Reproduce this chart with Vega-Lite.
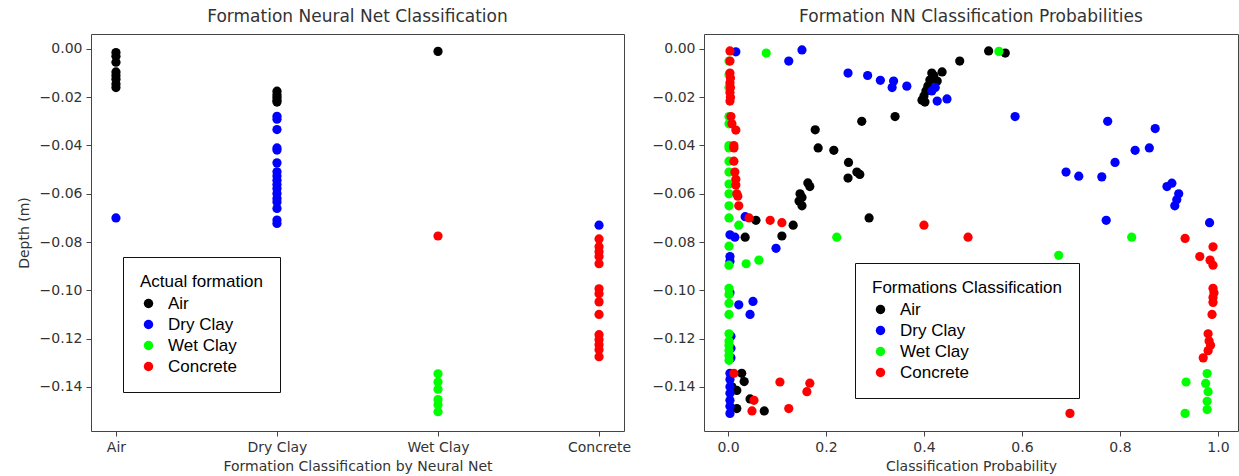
{
  "$schema": "https://vega.github.io/schema/vega-lite/v6.json",
  "background": "white",
  "padding": {"left": 16, "top": 7, "right": 0, "bottom": 0},
  "spacing": 19,
  "config": {
    "font": "DejaVu Sans",
    "view": {"stroke": "#444", "strokeWidth": 1},
    "axis": {
      "grid": false, "domain": false, "tickColor": "#444", "tickSize": 5, "labelPadding": 4,
      "labelFont": "DejaVu Sans", "labelFontSize": 14, "labelColor": "#333",
      "titleFont": "DejaVu Sans", "titleFontSize": 14, "titleFontWeight": "normal", "titleColor": "#333"
    },
    "legend": {
      "orient": "none", "strokeColor": "#111", "fillColor": "white", "padding": 17,
      "titleFont": "Liberation Sans", "titleFontSize": 17, "titleFontWeight": "normal", "titleColor": "#000", "titlePadding": 4, "titleLimit": 500,
      "labelFont": "Liberation Sans", "labelFontSize": 17, "labelColor": "#000", "labelOffset": 11,
      "symbolType": "circle", "symbolSize": 90, "symbolStrokeWidth": 0, "rowPadding": 3
    },
    "title": {"font": "DejaVu Sans", "fontSize": 17, "fontWeight": "normal", "color": "#333", "offset": 8}
  },
  "datasets": {
    "left": [
      {"predicted": "Air", "depth": -0.0015, "actual": "Air"},
      {"predicted": "Air", "depth": -0.003, "actual": "Air"},
      {"predicted": "Air", "depth": -0.0055, "actual": "Air"},
      {"predicted": "Air", "depth": -0.0095, "actual": "Air"},
      {"predicted": "Air", "depth": -0.011, "actual": "Air"},
      {"predicted": "Air", "depth": -0.0125, "actual": "Air"},
      {"predicted": "Air", "depth": -0.0145, "actual": "Air"},
      {"predicted": "Air", "depth": -0.016, "actual": "Air"},
      {"predicted": "Air", "depth": -0.070, "actual": "Dry Clay"},
      {"predicted": "Dry Clay", "depth": -0.0175, "actual": "Air"},
      {"predicted": "Dry Clay", "depth": -0.019, "actual": "Air"},
      {"predicted": "Dry Clay", "depth": -0.020, "actual": "Air"},
      {"predicted": "Dry Clay", "depth": -0.0212, "actual": "Air"},
      {"predicted": "Dry Clay", "depth": -0.022, "actual": "Air"},
      {"predicted": "Dry Clay", "depth": -0.0279, "actual": "Dry Clay"},
      {"predicted": "Dry Clay", "depth": -0.0291, "actual": "Dry Clay"},
      {"predicted": "Dry Clay", "depth": -0.0334, "actual": "Dry Clay"},
      {"predicted": "Dry Clay", "depth": -0.0410, "actual": "Dry Clay"},
      {"predicted": "Dry Clay", "depth": -0.0419, "actual": "Dry Clay"},
      {"predicted": "Dry Clay", "depth": -0.0472, "actual": "Dry Clay"},
      {"predicted": "Dry Clay", "depth": -0.0509, "actual": "Dry Clay"},
      {"predicted": "Dry Clay", "depth": -0.0526, "actual": "Dry Clay"},
      {"predicted": "Dry Clay", "depth": -0.0544, "actual": "Dry Clay"},
      {"predicted": "Dry Clay", "depth": -0.0562, "actual": "Dry Clay"},
      {"predicted": "Dry Clay", "depth": -0.0578, "actual": "Dry Clay"},
      {"predicted": "Dry Clay", "depth": -0.0599, "actual": "Dry Clay"},
      {"predicted": "Dry Clay", "depth": -0.0620, "actual": "Dry Clay"},
      {"predicted": "Dry Clay", "depth": -0.0634, "actual": "Dry Clay"},
      {"predicted": "Dry Clay", "depth": -0.0661, "actual": "Dry Clay"},
      {"predicted": "Dry Clay", "depth": -0.0709, "actual": "Dry Clay"},
      {"predicted": "Dry Clay", "depth": -0.0723, "actual": "Dry Clay"},
      {"predicted": "Wet Clay", "depth": -0.001, "actual": "Air"},
      {"predicted": "Wet Clay", "depth": -0.0775, "actual": "Concrete"},
      {"predicted": "Wet Clay", "depth": -0.1346, "actual": "Wet Clay"},
      {"predicted": "Wet Clay", "depth": -0.138, "actual": "Wet Clay"},
      {"predicted": "Wet Clay", "depth": -0.141, "actual": "Wet Clay"},
      {"predicted": "Wet Clay", "depth": -0.1453, "actual": "Wet Clay"},
      {"predicted": "Wet Clay", "depth": -0.1474, "actual": "Wet Clay"},
      {"predicted": "Wet Clay", "depth": -0.1503, "actual": "Wet Clay"},
      {"predicted": "Concrete", "depth": -0.073, "actual": "Dry Clay"},
      {"predicted": "Concrete", "depth": -0.0787, "actual": "Concrete"},
      {"predicted": "Concrete", "depth": -0.082, "actual": "Concrete"},
      {"predicted": "Concrete", "depth": -0.084, "actual": "Concrete"},
      {"predicted": "Concrete", "depth": -0.086, "actual": "Concrete"},
      {"predicted": "Concrete", "depth": -0.089, "actual": "Concrete"},
      {"predicted": "Concrete", "depth": -0.0994, "actual": "Concrete"},
      {"predicted": "Concrete", "depth": -0.1014, "actual": "Concrete"},
      {"predicted": "Concrete", "depth": -0.1048, "actual": "Concrete"},
      {"predicted": "Concrete", "depth": -0.110, "actual": "Concrete"},
      {"predicted": "Concrete", "depth": -0.1184, "actual": "Concrete"},
      {"predicted": "Concrete", "depth": -0.1205, "actual": "Concrete"},
      {"predicted": "Concrete", "depth": -0.1226, "actual": "Concrete"},
      {"predicted": "Concrete", "depth": -0.1246, "actual": "Concrete"},
      {"predicted": "Concrete", "depth": -0.1275, "actual": "Concrete"}
    ],
    "right": [
      {"probability": 0.532, "depth": -0.0008, "formation": "Air"},
      {"probability": 0.566, "depth": -0.0017, "formation": "Air"},
      {"probability": 0.473, "depth": -0.005, "formation": "Air"},
      {"probability": 0.437, "depth": -0.0095, "formation": "Air"},
      {"probability": 0.416, "depth": -0.010, "formation": "Air"},
      {"probability": 0.42, "depth": -0.011, "formation": "Air"},
      {"probability": 0.427, "depth": -0.0133, "formation": "Air"},
      {"probability": 0.412, "depth": -0.0129, "formation": "Air"},
      {"probability": 0.408, "depth": -0.0154, "formation": "Air"},
      {"probability": 0.404, "depth": -0.0174, "formation": "Air"},
      {"probability": 0.40, "depth": -0.0195, "formation": "Air"},
      {"probability": 0.396, "depth": -0.0212, "formation": "Air"},
      {"probability": 0.402, "depth": -0.022, "formation": "Air"},
      {"probability": 0.341, "depth": -0.028, "formation": "Air"},
      {"probability": 0.273, "depth": -0.030, "formation": "Air"},
      {"probability": 0.178, "depth": -0.0335, "formation": "Air"},
      {"probability": 0.184, "depth": -0.041, "formation": "Air"},
      {"probability": 0.216, "depth": -0.042, "formation": "Air"},
      {"probability": 0.246, "depth": -0.047, "formation": "Air"},
      {"probability": 0.263, "depth": -0.051, "formation": "Air"},
      {"probability": 0.269, "depth": -0.052, "formation": "Air"},
      {"probability": 0.245, "depth": -0.0535, "formation": "Air"},
      {"probability": 0.163, "depth": -0.0555, "formation": "Air"},
      {"probability": 0.167, "depth": -0.057, "formation": "Air"},
      {"probability": 0.147, "depth": -0.060, "formation": "Air"},
      {"probability": 0.151, "depth": -0.0615, "formation": "Air"},
      {"probability": 0.145, "depth": -0.063, "formation": "Air"},
      {"probability": 0.151, "depth": -0.065, "formation": "Air"},
      {"probability": 0.288, "depth": -0.070, "formation": "Air"},
      {"probability": 0.057, "depth": -0.071, "formation": "Air"},
      {"probability": 0.133, "depth": -0.073, "formation": "Air"},
      {"probability": 0.035, "depth": -0.078, "formation": "Air"},
      {"probability": 0.11, "depth": -0.0775, "formation": "Air"},
      {"probability": 0.028, "depth": -0.1344, "formation": "Air"},
      {"probability": 0.033, "depth": -0.1378, "formation": "Air"},
      {"probability": 0.008, "depth": -0.140, "formation": "Air"},
      {"probability": 0.018, "depth": -0.1415, "formation": "Air"},
      {"probability": 0.045, "depth": -0.145, "formation": "Air"},
      {"probability": 0.018, "depth": -0.149, "formation": "Air"},
      {"probability": 0.074, "depth": -0.150, "formation": "Air"},
      {"probability": 0.016, "depth": -0.0012, "formation": "Dry Clay"},
      {"probability": 0.124, "depth": -0.005, "formation": "Dry Clay"},
      {"probability": 0.151, "depth": -0.0004, "formation": "Dry Clay"},
      {"probability": 0.245, "depth": -0.010, "formation": "Dry Clay"},
      {"probability": 0.285, "depth": -0.011, "formation": "Dry Clay"},
      {"probability": 0.311, "depth": -0.013, "formation": "Dry Clay"},
      {"probability": 0.338, "depth": -0.0133, "formation": "Dry Clay"},
      {"probability": 0.335, "depth": -0.016, "formation": "Dry Clay"},
      {"probability": 0.365, "depth": -0.0154, "formation": "Dry Clay"},
      {"probability": 0.416, "depth": -0.0174, "formation": "Dry Clay"},
      {"probability": 0.423, "depth": -0.016, "formation": "Dry Clay"},
      {"probability": 0.427, "depth": -0.0216, "formation": "Dry Clay"},
      {"probability": 0.447, "depth": -0.0207, "formation": "Dry Clay"},
      {"probability": 0.586, "depth": -0.028, "formation": "Dry Clay"},
      {"probability": 0.775, "depth": -0.030, "formation": "Dry Clay"},
      {"probability": 0.872, "depth": -0.033, "formation": "Dry Clay"},
      {"probability": 0.831, "depth": -0.042, "formation": "Dry Clay"},
      {"probability": 0.86, "depth": -0.041, "formation": "Dry Clay"},
      {"probability": 0.79, "depth": -0.047, "formation": "Dry Clay"},
      {"probability": 0.69, "depth": -0.051, "formation": "Dry Clay"},
      {"probability": 0.716, "depth": -0.0527, "formation": "Dry Clay"},
      {"probability": 0.763, "depth": -0.053, "formation": "Dry Clay"},
      {"probability": 0.896, "depth": -0.057, "formation": "Dry Clay"},
      {"probability": 0.906, "depth": -0.0556, "formation": "Dry Clay"},
      {"probability": 0.92, "depth": -0.060, "formation": "Dry Clay"},
      {"probability": 0.916, "depth": -0.0625, "formation": "Dry Clay"},
      {"probability": 0.912, "depth": -0.065, "formation": "Dry Clay"},
      {"probability": 0.772, "depth": -0.071, "formation": "Dry Clay"},
      {"probability": 0.983, "depth": -0.072, "formation": "Dry Clay"},
      {"probability": 0.035, "depth": -0.0695, "formation": "Dry Clay"},
      {"probability": 0.004, "depth": -0.077, "formation": "Dry Clay"},
      {"probability": 0.014, "depth": -0.078, "formation": "Dry Clay"},
      {"probability": 0.098, "depth": -0.0826, "formation": "Dry Clay"},
      {"probability": 0.004, "depth": -0.086, "formation": "Dry Clay"},
      {"probability": 0.004, "depth": -0.088, "formation": "Dry Clay"},
      {"probability": 0.004, "depth": -0.101, "formation": "Dry Clay"},
      {"probability": 0.022, "depth": -0.106, "formation": "Dry Clay"},
      {"probability": 0.051, "depth": -0.1046, "formation": "Dry Clay"},
      {"probability": 0.045, "depth": -0.110, "formation": "Dry Clay"},
      {"probability": 0.006, "depth": -0.119, "formation": "Dry Clay"},
      {"probability": 0.006, "depth": -0.124, "formation": "Dry Clay"},
      {"probability": 0.006, "depth": -0.128, "formation": "Dry Clay"},
      {"probability": 0.004, "depth": -0.1344, "formation": "Dry Clay"},
      {"probability": 0.004, "depth": -0.137, "formation": "Dry Clay"},
      {"probability": 0.004, "depth": -0.140, "formation": "Dry Clay"},
      {"probability": 0.004, "depth": -0.1427, "formation": "Dry Clay"},
      {"probability": 0.004, "depth": -0.1456, "formation": "Dry Clay"},
      {"probability": 0.004, "depth": -0.148, "formation": "Dry Clay"},
      {"probability": 0.004, "depth": -0.151, "formation": "Dry Clay"},
      {"probability": 0.078, "depth": -0.0017, "formation": "Wet Clay"},
      {"probability": 0.553, "depth": -0.001, "formation": "Wet Clay"},
      {"probability": 0.002, "depth": -0.005, "formation": "Wet Clay"},
      {"probability": 0.002, "depth": -0.0107, "formation": "Wet Clay"},
      {"probability": 0.002, "depth": -0.016, "formation": "Wet Clay"},
      {"probability": 0.002, "depth": -0.028, "formation": "Wet Clay"},
      {"probability": 0.002, "depth": -0.031, "formation": "Wet Clay"},
      {"probability": 0.002, "depth": -0.040, "formation": "Wet Clay"},
      {"probability": 0.002, "depth": -0.041, "formation": "Wet Clay"},
      {"probability": 0.002, "depth": -0.0465, "formation": "Wet Clay"},
      {"probability": 0.002, "depth": -0.051, "formation": "Wet Clay"},
      {"probability": 0.002, "depth": -0.056, "formation": "Wet Clay"},
      {"probability": 0.002, "depth": -0.060, "formation": "Wet Clay"},
      {"probability": 0.002, "depth": -0.065, "formation": "Wet Clay"},
      {"probability": 0.002, "depth": -0.070, "formation": "Wet Clay"},
      {"probability": 0.022, "depth": -0.073, "formation": "Wet Clay"},
      {"probability": 0.002, "depth": -0.0817, "formation": "Wet Clay"},
      {"probability": 0.002, "depth": -0.0896, "formation": "Wet Clay"},
      {"probability": 0.037, "depth": -0.089, "formation": "Wet Clay"},
      {"probability": 0.063, "depth": -0.0875, "formation": "Wet Clay"},
      {"probability": 0.222, "depth": -0.078, "formation": "Wet Clay"},
      {"probability": 0.675, "depth": -0.0855, "formation": "Wet Clay"},
      {"probability": 0.824, "depth": -0.078, "formation": "Wet Clay"},
      {"probability": 0.002, "depth": -0.0992, "formation": "Wet Clay"},
      {"probability": 0.002, "depth": -0.1017, "formation": "Wet Clay"},
      {"probability": 0.002, "depth": -0.1054, "formation": "Wet Clay"},
      {"probability": 0.002, "depth": -0.110, "formation": "Wet Clay"},
      {"probability": 0.002, "depth": -0.118, "formation": "Wet Clay"},
      {"probability": 0.002, "depth": -0.121, "formation": "Wet Clay"},
      {"probability": 0.002, "depth": -0.1228, "formation": "Wet Clay"},
      {"probability": 0.002, "depth": -0.1249, "formation": "Wet Clay"},
      {"probability": 0.002, "depth": -0.127, "formation": "Wet Clay"},
      {"probability": 0.002, "depth": -0.129, "formation": "Wet Clay"},
      {"probability": 0.935, "depth": -0.138, "formation": "Wet Clay"},
      {"probability": 0.933, "depth": -0.151, "formation": "Wet Clay"},
      {"probability": 0.978, "depth": -0.1345, "formation": "Wet Clay"},
      {"probability": 0.975, "depth": -0.1386, "formation": "Wet Clay"},
      {"probability": 0.98, "depth": -0.142, "formation": "Wet Clay"},
      {"probability": 0.978, "depth": -0.146, "formation": "Wet Clay"},
      {"probability": 0.978, "depth": -0.1494, "formation": "Wet Clay"},
      {"probability": 0.004, "depth": -0.0008, "formation": "Concrete"},
      {"probability": 0.004, "depth": -0.005, "formation": "Concrete"},
      {"probability": 0.004, "depth": -0.010, "formation": "Concrete"},
      {"probability": 0.005, "depth": -0.012, "formation": "Concrete"},
      {"probability": 0.004, "depth": -0.014, "formation": "Concrete"},
      {"probability": 0.005, "depth": -0.016, "formation": "Concrete"},
      {"probability": 0.004, "depth": -0.018, "formation": "Concrete"},
      {"probability": 0.005, "depth": -0.020, "formation": "Concrete"},
      {"probability": 0.004, "depth": -0.0216, "formation": "Concrete"},
      {"probability": 0.006, "depth": -0.028, "formation": "Concrete"},
      {"probability": 0.008, "depth": -0.031, "formation": "Concrete"},
      {"probability": 0.016, "depth": -0.0336, "formation": "Concrete"},
      {"probability": 0.012, "depth": -0.040, "formation": "Concrete"},
      {"probability": 0.012, "depth": -0.041, "formation": "Concrete"},
      {"probability": 0.012, "depth": -0.0465, "formation": "Concrete"},
      {"probability": 0.014, "depth": -0.051, "formation": "Concrete"},
      {"probability": 0.016, "depth": -0.054, "formation": "Concrete"},
      {"probability": 0.016, "depth": -0.0564, "formation": "Concrete"},
      {"probability": 0.018, "depth": -0.060, "formation": "Concrete"},
      {"probability": 0.02, "depth": -0.061, "formation": "Concrete"},
      {"probability": 0.022, "depth": -0.065, "formation": "Concrete"},
      {"probability": 0.043, "depth": -0.070, "formation": "Concrete"},
      {"probability": 0.086, "depth": -0.071, "formation": "Concrete"},
      {"probability": 0.11, "depth": -0.072, "formation": "Concrete"},
      {"probability": 0.40, "depth": -0.073, "formation": "Concrete"},
      {"probability": 0.49, "depth": -0.078, "formation": "Concrete"},
      {"probability": 0.933, "depth": -0.0785, "formation": "Concrete"},
      {"probability": 0.99, "depth": -0.082, "formation": "Concrete"},
      {"probability": 0.963, "depth": -0.086, "formation": "Concrete"},
      {"probability": 0.984, "depth": -0.0875, "formation": "Concrete"},
      {"probability": 0.99, "depth": -0.0896, "formation": "Concrete"},
      {"probability": 0.99, "depth": -0.0992, "formation": "Concrete"},
      {"probability": 0.992, "depth": -0.101, "formation": "Concrete"},
      {"probability": 0.99, "depth": -0.103, "formation": "Concrete"},
      {"probability": 0.99, "depth": -0.105, "formation": "Concrete"},
      {"probability": 0.988, "depth": -0.110, "formation": "Concrete"},
      {"probability": 0.98, "depth": -0.118, "formation": "Concrete"},
      {"probability": 0.982, "depth": -0.121, "formation": "Concrete"},
      {"probability": 0.985, "depth": -0.1228, "formation": "Concrete"},
      {"probability": 0.98, "depth": -0.125, "formation": "Concrete"},
      {"probability": 0.97, "depth": -0.128, "formation": "Concrete"},
      {"probability": 0.012, "depth": -0.1344, "formation": "Concrete"},
      {"probability": 0.106, "depth": -0.138, "formation": "Concrete"},
      {"probability": 0.167, "depth": -0.1385, "formation": "Concrete"},
      {"probability": 0.161, "depth": -0.142, "formation": "Concrete"},
      {"probability": 0.053, "depth": -0.1456, "formation": "Concrete"},
      {"probability": 0.049, "depth": -0.150, "formation": "Concrete"},
      {"probability": 0.124, "depth": -0.149, "formation": "Concrete"},
      {"probability": 0.698, "depth": -0.151, "formation": "Concrete"}
    ]
  },
  "hconcat": [
    {
      "width": 533,
      "height": 397,
      "title": "Formation Neural Net Classification",
      "data": {"name": "left"},
      "mark": {"type": "circle", "size": 85, "opacity": 1},
      "encoding": {
        "x": {
          "field": "predicted", "type": "ordinal",
          "scale": {"type": "point", "domain": ["Air", "Dry Clay", "Wet Clay", "Concrete"], "padding": 0.155},
          "axis": {"title": "Formation Classification by Neural Net", "labelAngle": 0, "titlePadding": 5}
        },
        "y": {
          "field": "depth", "type": "quantitative",
          "scale": {"domain": [-0.1583, 0.0062], "nice": false, "zero": false},
          "axis": {"title": "Depth (m)", "values": [0, -0.02, -0.04, -0.06, -0.08, -0.1, -0.12, -0.14], "format": ".2f", "titlePadding": 8}
        },
        "color": {
          "field": "actual", "type": "nominal",
          "scale": {"domain": ["Air", "Dry Clay", "Wet Clay", "Concrete"], "range": ["#000000", "#0000ff", "#00ff00", "#ff0000"]},
          "legend": {"title": "Actual formation\u00a0\u00a0\u00a0\u00a0\u00a0\u00a0\u00a0\u00a0\u00a0", "legendX": 32, "legendY": 223}
        }
      }
    },
    {
      "width": 534,
      "height": 397,
      "title": "Formation NN Classification Probabilities",
      "data": {"name": "right"},
      "mark": {"type": "circle", "size": 85, "opacity": 1},
      "encoding": {
        "x": {
          "field": "probability", "type": "quantitative",
          "scale": {"domain": [-0.049, 1.041], "nice": false, "zero": false},
          "axis": {"title": "Classification Probability", "values": [0, 0.2, 0.4, 0.6, 0.8, 1.0], "format": ".1f", "titlePadding": 5}
        },
        "y": {
          "field": "depth", "type": "quantitative",
          "scale": {"domain": [-0.1583, 0.0062], "nice": false, "zero": false},
          "axis": {"title": null, "values": [0, -0.02, -0.04, -0.06, -0.08, -0.1, -0.12, -0.14], "format": ".2f"}
        },
        "color": {
          "field": "formation", "type": "nominal",
          "scale": {"domain": ["Air", "Dry Clay", "Wet Clay", "Concrete"], "range": ["#000000", "#0000ff", "#00ff00", "#ff0000"]},
          "legend": {"title": "Formations Classification", "legendX": 151, "legendY": 229}
        }
      }
    }
  ],
  "resolve": {"scale": {"x": "independent", "y": "independent", "color": "independent"}, "legend": {"color": "independent"}}
}
